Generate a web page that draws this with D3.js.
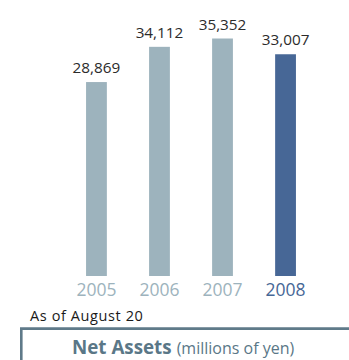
<!DOCTYPE html>
<html>
<head>
<meta charset="utf-8">
<script src="https://cdn.jsdelivr.net/npm/d3@7"></script>
<style>
  html, body { margin: 0; padding: 0; background: #fff; }
  svg { display: block; }
  text { font-family: "Open Sans", "Noto Sans", sans-serif; }
</style>
</head>
<body>
<svg id="chart" width="349" height="360"></svg>
<script>
// Net assets by fiscal year (millions of yen)
const years = ["2005", "2006", "2007", "2008"];
const netAssets = [28869, 34112, 35352, 33007];
const highlightYear = "2008";

const svg = d3.select("#chart");
const W = 349, H = 360;
const baseline = 276;

const x = d3.scaleBand()
  .domain(years)
  .range([64, 318])
  .paddingInner(0.67)
  .paddingOuter(0.35);

const y = d3.scaleLinear()
  .domain([0, 35352])
  .range([baseline, 38.5]);

const lightColor = "#9db3bd";
const darkColor = "#476796";
const colorOf = yr => yr === highlightYear ? darkColor : lightColor;

const data = years.map((yr, i) => ({ yr, v: netAssets[i] }));

// bars
svg.append("g").selectAll("rect")
  .data(data)
  .join("rect")
  .attr("x", d => x(d.yr))
  .attr("width", x.bandwidth())
  .attr("y", d => y(d.v))
  .attr("height", d => baseline - y(d.v))
  .attr("fill", d => colorOf(d.yr));

// value labels above bars
svg.append("g").selectAll("text")
  .data(data)
  .join("text")
  .attr("x", d => x(d.yr) + x.bandwidth() / 2)
  .attr("y", d => y(d.v) - 9)
  .attr("text-anchor", "middle")
  .attr("font-size", 15.3)
  .attr("fill", "#2b2b2b")
  .text(d => d3.format(",")(d.v));

// year axis labels
const xAxis = d3.axisBottom(x).tickSize(0).tickPadding(0);
const axisG = svg.append("g")
  .attr("transform", `translate(0,${baseline})`)
  .call(xAxis);
axisG.select(".domain").remove();
axisG.selectAll("text")
  .attr("y", 20)
  .attr("dy", 0)
  .attr("font-size", 17.5)
  .attr("font-family", "\"Open Sans\", sans-serif")
  .attr("fill", d => colorOf(d));

// footnote
svg.append("text")
  .attr("x", 30)
  .attr("y", 320.5)
  .attr("font-size", 14.5)
  .attr("letter-spacing", 0.6)
  .attr("fill", "#1a1a1a")
  .text("As of August 20");

// title box (open toward right and bottom edges)
svg.append("path")
  .attr("d", `M21.3,${H + 5} L21.3,328.6 L${W + 5},328.6`)
  .attr("fill", "none")
  .attr("stroke", "#5f7a89")
  .attr("stroke-width", 2.6);

const title = svg.append("text")
  .attr("x", 72)
  .attr("y", 353.5)
  .attr("fill", "#5a7787");
title.append("tspan")
  .attr("font-size", 18.8)
  .attr("font-weight", "bold")
  .text("Net Assets");
title.append("tspan")
  .attr("font-size", 16)
  .attr("dx", 5)
  .text("(millions of yen)");
</script>
</body>
</html>
